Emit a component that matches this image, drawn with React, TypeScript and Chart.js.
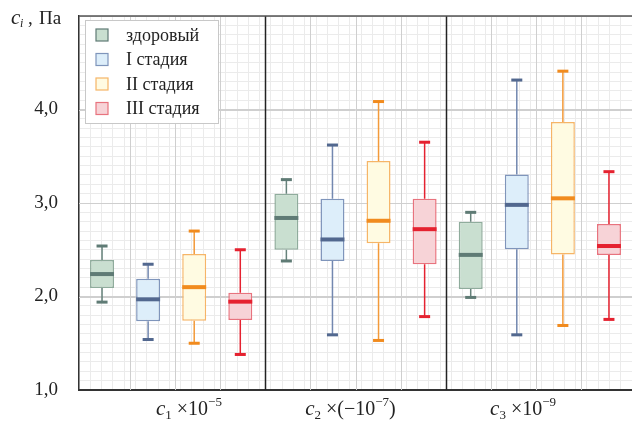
import React, { useEffect, useRef } from 'react';
import { Chart, registerables } from 'chart.js';

Chart.register(...registerables);

// ---- data ----
const groupSubscripts = ['1', '2', '3'];
const groupFactors = ['×10', '×(−10', '×10'];
const groupExponents = ['−5', '−7', '−9'];
const groupSuffixes = ['', ')', ''];

const seriesNames = ['здоровый', 'I стадия', 'II стадия', 'III стадия'];
const yTickValues = [1, 2, 3, 4];

// per series, values for groups c1, c2, c3
const healthyMin = [1.94, 2.38, 1.99];
const healthyQ1 = [2.09, 2.5, 2.08];
const healthyMed = [2.24, 2.84, 2.445];
const healthyQ3 = [2.39, 3.1, 2.8];
const healthyMax = [2.54, 3.25, 2.9];

const stage1Min = [1.54, 1.59, 1.59];
const stage1Q1 = [1.735, 2.38, 2.505];
const stage1Med = [1.97, 2.61, 2.98];
const stage1Q3 = [2.19, 3.045, 3.305];
const stage1Max = [2.345, 3.62, 4.315];

const stage2Min = [1.5, 1.53, 1.69];
const stage2Q1 = [1.74, 2.57, 2.45];
const stage2Med = [2.1, 2.81, 3.05];
const stage2Q3 = [2.455, 3.45, 3.865];
const stage2Max = [2.7, 4.085, 4.41];

const stage3Min = [1.38, 1.785, 1.755];
const stage3Q1 = [1.75, 2.345, 2.445];
const stage3Med = [1.945, 2.72, 2.54];
const stage3Q3 = [2.04, 3.045, 2.775];
const stage3Max = [2.5, 3.65, 3.335];

// ---- styles ----
const fills = ['#c9dfd0', '#ddeefa', '#fffbe2', '#f7d3d7'];
const borders = ['#8fac9c', '#7f95bb', '#f6b567', '#e8737e'];
const accents = ['#5f7b75', '#52688f', '#f18b1e', '#e52230'];
const whiskerColors = ['#66827b', '#7388b0', '#f39a3a', '#e52230'];
const labelShift = [14, -5, -13];
const FONT = "'Liberation Serif', 'Times New Roman', serif";
const MINOR = '#ebebeb';
const MAJOR = '#cfcfcf';

const seriesStats = [
  { min: healthyMin, q1: healthyQ1, med: healthyMed, q3: healthyQ3, max: healthyMax },
  { min: stage1Min, q1: stage1Q1, med: stage1Med, q3: stage1Q3, max: stage1Max },
  { min: stage2Min, q1: stage2Q1, med: stage2Med, q3: stage2Q3, max: stage2Max },
  { min: stage3Min, q1: stage3Q1, med: stage3Med, q3: stage3Q3, max: stage3Max },
];

const nGroups = groupSubscripts.length;
const nSeries = seriesNames.length;
const slotLabels: string[] = [];
for (let g = 0; g < nGroups; g++) for (let s = 0; s < nSeries; s++) slotLabels.push(`c${groupSubscripts[g]}-${s}`);

const near = (v: number, t: number) => Math.abs(v - t) < 1e-6;
const isInt = (v: number) => near(v, Math.round(v));
const tickVal = (c: any) => (c && c.tick && typeof c.tick.value === 'number' ? c.tick.value : NaN);

const boxPlugin = {
  id: 'boxExtras',
  beforeDatasetsDraw(chart: any) {
    const ctx = chart.ctx;
    const xg = chart.scales.xg;
    const ys = chart.scales.y;
    const a = chart.chartArea;
    ctx.save();
    // major horizontal lines
    ctx.strokeStyle = MAJOR;
    ctx.lineWidth = 1;
    for (let v = 2; v <= 4; v++) {
      const y = Math.round(ys.getPixelForValue(v)) + 0.5;
      ctx.beginPath();
      ctx.moveTo(a.left, y);
      ctx.lineTo(a.right, y);
      ctx.stroke();
    }
    // major vertical lines and group separators
    for (let i = 1; i < slotLabels.length; i++) {
      const x = Math.round(xg.getPixelForValue(i)) + 0.5;
      const sep = i % nSeries === 0;
      ctx.strokeStyle = sep ? '#222' : MAJOR;
      ctx.lineWidth = sep ? 1.5 : 1;
      ctx.beginPath();
      ctx.moveTo(x, a.top);
      ctx.lineTo(x, a.bottom);
      ctx.stroke();
    }
    // top frame line
    ctx.strokeStyle = '#555';
    ctx.lineWidth = 1.5;
    ctx.beginPath();
    ctx.moveTo(a.left, a.top);
    ctx.lineTo(a.right, a.top);
    ctx.stroke();
    ctx.restore();
  },
  afterDatasetsDraw(chart: any) {
    const ctx = chart.ctx;
    const xs = chart.scales.x;
    const ys = chart.scales.y;
    ctx.save();
    for (let s = 0; s < nSeries; s++) {
      const st = seriesStats[s];
      const meta = chart.getDatasetMeta(s);
      for (let g = 0; g < nGroups; g++) {
        const idx = g * nSeries + s;
        const x = xs.getPixelForValue(idx);
        const bar = meta.data[idx];
        const w = bar && bar.width ? bar.width : 23;
        const yMin = ys.getPixelForValue(st.min[g]);
        const yQ1 = ys.getPixelForValue(st.q1[g]);
        const yMed = ys.getPixelForValue(st.med[g]);
        const yQ3 = ys.getPixelForValue(st.q3[g]);
        const yMax = ys.getPixelForValue(st.max[g]);
        ctx.strokeStyle = whiskerColors[s];
        ctx.lineWidth = 1.5;
        ctx.beginPath();
        ctx.moveTo(x, yQ3);
        ctx.lineTo(x, yMax);
        ctx.moveTo(x, yQ1);
        ctx.lineTo(x, yMin);
        ctx.stroke();
        ctx.fillStyle = accents[s];
        ctx.fillRect(x - 5.5, yMax - 1.5, 11, 3);
        ctx.fillRect(x - 5.5, yMin - 1.5, 11, 3);
        ctx.fillRect(x - w / 2, yMed - 2, w, 4);
      }
    }
    ctx.restore();
  },
  afterDraw(chart: any) {
    const ctx = chart.ctx;
    const xs = chart.scales.xg;
    ctx.save();
    // y-axis title
    ctx.fillStyle = '#222';
    ctx.textBaseline = 'alphabetic';
    ctx.textAlign = 'left';
    ctx.font = `italic 21px ${FONT}`;
    ctx.fillText('c', 11, 24);
    ctx.font = `italic 12px ${FONT}`;
    ctx.fillText('i', 20, 27);
    ctx.font = `19px ${FONT}`;
    ctx.fillText(',', 28, 24);
    ctx.fillText('Па', 39, 24);

    // group labels
    const baseY = 415;
    for (let g = 0; g < nGroups; g++) {
      const center = xs.getPixelForValue(g * nSeries + nSeries / 2) + labelShift[g];
      const parts = [
        { t: 'c', f: `italic 21px ${FONT}`, dy: 0 },
        { t: groupSubscripts[g], f: `13px ${FONT}`, dy: 4 },
        { t: ' ' + groupFactors[g], f: `20px ${FONT}`, dy: 0 },
        { t: groupExponents[g], f: `13px ${FONT}`, dy: -9 },
        { t: groupSuffixes[g], f: `20px ${FONT}`, dy: 0 },
      ];
      let total = 0;
      const widths = parts.map((p) => {
        ctx.font = p.f;
        const w = ctx.measureText(p.t).width;
        total += w;
        return w;
      });
      let x = center - total / 2;
      parts.forEach((p, i) => {
        ctx.font = p.f;
        ctx.fillText(p.t, x, baseY + p.dy);
        x += widths[i];
      });
    }

    // legend
    const lx = 85, ly = 20, lw = 133, lh = 103;
    ctx.fillStyle = '#ffffff';
    ctx.fillRect(lx, ly, lw, lh);
    ctx.strokeStyle = '#c8c8c8';
    ctx.lineWidth = 1;
    ctx.strokeRect(lx + 0.5, ly + 0.5, lw, lh);
    ctx.textBaseline = 'middle';
    ctx.font = `18px ${FONT}`;
    chart.data.datasets.forEach((ds: any, i: number) => {
      const cy = 35 + i * 24.5;
      ctx.fillStyle = ds.backgroundColor;
      ctx.fillRect(96, cy - 6, 12, 12);
      ctx.strokeStyle = i === 0 ? accents[0] : ds.borderColor;
      ctx.lineWidth = 1.2;
      ctx.strokeRect(96, cy - 6, 12, 12);
      ctx.fillStyle = '#222';
      ctx.fillText(ds.label, 126, cy + 1);
    });
    ctx.restore();
  },
};

export default function App() {
  const ref = useRef<HTMLCanvasElement | null>(null);
  useEffect(() => {
    if (!ref.current) return;
    const datasets = seriesNames.map((name, s) => ({
      label: name,
      data: slotLabels.map((_, idx) => {
        const g = Math.floor(idx / nSeries);
        return idx % nSeries === s ? [seriesStats[s].q1[g], seriesStats[s].q3[g]] : null;
      }),
      backgroundColor: fills[s],
      borderColor: borders[s],
      borderWidth: 1.5,
      borderSkipped: false,
      grouped: false,
      barPercentage: 0.52,
      categoryPercentage: 1,
    }));
    const chart = new Chart(ref.current, {
      type: 'bar',
      data: { labels: slotLabels, datasets: datasets as any },
      options: {
        animation: false,
        responsive: false,
        layout: { padding: { top: 16, right: 0, left: 0, bottom: 0 } },
        plugins: { legend: { display: false }, tooltip: { enabled: false }, title: { display: false } },
        scales: {
          x: { type: 'category', display: false, offset: true },
          xg: {
            type: 'linear',
            position: 'bottom',
            min: 0,
            max: slotLabels.length,
            ticks: { stepSize: 0.25, display: false, autoSkip: false },
            grid: { drawTicks: false, color: MINOR, lineWidth: 1 },
            border: { display: true, color: '#333', width: 2 },
            afterFit: (scale: any) => {
              scale.height = 32;
              scale.paddingLeft = 0;
              scale.paddingRight = 0;
            },
          } as any,
          y: {
            type: 'linear',
            min: 1,
            max: 5,
            ticks: {
              stepSize: 0.1,
              autoSkip: false,
              padding: 21,
              color: '#222',
              font: { family: FONT, size: 19 },
              callback: (v: any) => {
                const n = Number(v);
                const hit = yTickValues.find((t) => near(n, t));
                return hit !== undefined ? hit.toFixed(1).replace('.', ',') : '';
              },
            },
            grid: {
              drawTicks: false,
              color: (c: any) => {
                const v = tickVal(c);
                if (!isNaN(v) && isInt(v)) return MAJOR;
                return MINOR;
              },
              lineWidth: 1,
            },
            border: { display: true, color: '#333', width: 1.5 },
            afterFit: (scale: any) => {
              scale.width = 79;
              scale.paddingTop = 0;
              scale.paddingBottom = 0;
            },
          },
        },
      },
      plugins: [boxPlugin],
    });
    return () => chart.destroy();
  }, []);
  return (
    <div style={{ position: 'fixed', left: 0, top: 0, width: 632, height: 422, background: '#fff' }}>
      <canvas ref={ref} width={632} height={422} />
    </div>
  );
}
